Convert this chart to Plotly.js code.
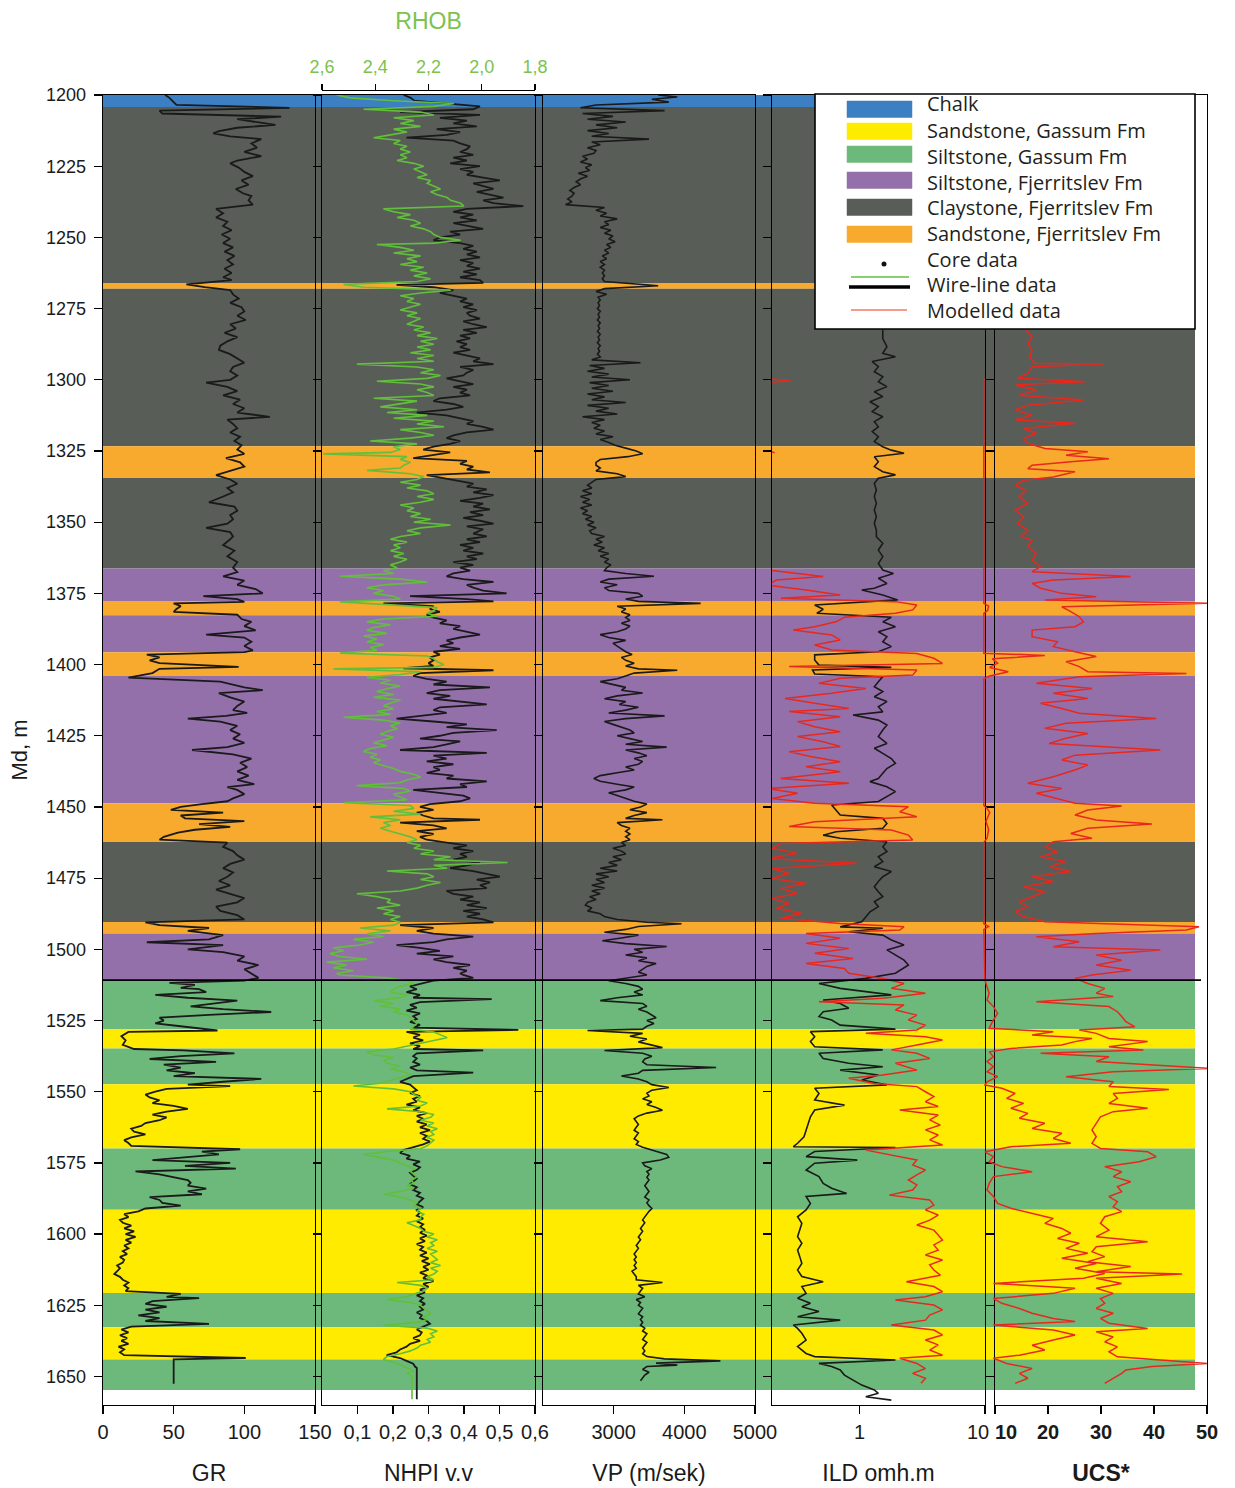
<!DOCTYPE html>
<html>
<head>
<meta charset="utf-8">
<script src="https://cdn.plot.ly/plotly-3.0.1.min.js"></script>
<style>html,body{margin:0;padding:0;background:#fff}#chart{width:1235px;height:1488px}</style>
</head>
<body>
<div id="chart"></div>
<script>
// ---------------- DATA ----------------
// Lithology intervals (top depth, bottom depth, lithology)
const bandTop    = [1200,1204.2,1266.0,1268.0,1323.3,1334.5,1366.3,1377.7,1382.7,1395.7,1404.0,1448.7,1462.3,1490.4,1494.4,1510.8,1528.0,1534.8,1547.4,1569.9,1591.4,1620.7,1632.7,1644.0];
const bandBottom = [1204.2,1266.0,1268.0,1323.3,1334.5,1366.3,1377.7,1382.7,1395.7,1404.0,1448.7,1462.3,1490.4,1494.4,1510.8,1528.0,1534.8,1547.4,1569.9,1591.4,1620.7,1632.7,1644.0,1654.7];
const bandLith   = ['Chalk','ClayF','SandF','ClayF','SandF','ClayF','SiltF','SandF','SiltF','SandF','SiltF','SandF','ClayF','SandF','SiltF','SiltG','SandG','SiltG','SandG','SiltG','SandG','SiltG','SandG','SiltG'];
const formationBoundary = 1510.8;

const legendLabels = ['Chalk','Sandstone, Gassum Fm','Siltstone, Gassum Fm','Siltstone, Fjerritslev Fm','Claystone, Fjerritslev Fm','Sandstone, Fjerritslev Fm'];
const legendKeys   = ['Chalk','SandG','SiltG','SiltF','ClayF','SandF'];
const legendLines  = ['Core data','Wire-line data','Modelled data'];

const depthTicks = [1200,1225,1250,1275,1300,1325,1350,1375,1400,1425,1450,1475,1500,1525,1550,1575,1600,1625,1650];
const grTicks = [0,50,100,150],            grTickText = ['0','50','100','150'];
const nhpiTicks = [0.1,0.2,0.3,0.4,0.5,0.6], nhpiTickText = ['0,1','0,2','0,3','0,4','0,5','0,6'];
const rhobTicks = [2.6,2.4,2.2,2.0,1.8],    rhobTickText = ['2,6','2,4','2,2','2,0','1,8'];
const vpTicks = [3000,4000,5000],          vpTickText = ['3000','4000','5000'];
const ildTicks = [1,10],                   ildTickText = ['1',''];
const ucsTicks = [10,20,30,40,50],         ucsTickText = ['','20','30','40','50'];

// Gamma ray [depth, GR]
const grLog = [[1200,44],[1201,47],[1202.5,50],[1203.5,52],[1204.5,132],[1205.5,40],[1206.5,42],[1207.6,126],[1208.5,95],[1209.5,108],[1210.5,122],[1211.5,95],[1212.7,82],[1213.5,78],[1214.5,90],[1215.5,112],[1217,105],[1218.5,109],[1220,100],[1221.5,112],[1223,95],[1224,90],[1225.5,96],[1227,100],[1228.5,106],[1230,98],[1231.5,103],[1233,94],[1234.5,99],[1235.5,105],[1237,103],[1238.5,106],[1240,80],[1241.5,85],[1243,80],[1244.5,88],[1246,85],[1247.5,91],[1249,84],[1250.5,90],[1252,85],[1253.5,92],[1255,86],[1256.5,93],[1258,88],[1259.5,92],[1261,86],[1262.5,91],[1264,85],[1265,91],[1266.5,59],[1267.5,72],[1268.5,90],[1270,92],[1271.5,96],[1273,90],[1274.5,98],[1276,100],[1277.5,95],[1279,101],[1280.5,90],[1282,94],[1283.5,86],[1285,95],[1286.5,88],[1288,83],[1289.5,82],[1291,90],[1292.5,95],[1294,100],[1295.5,92],[1297,90],[1298.5,95],[1300,90],[1301,73],[1302.5,88],[1304,95],[1305.5,85],[1307,97],[1308.5,92],[1310,100],[1311.5,95],[1313,118],[1314,88],[1315.5,92],[1317,95],[1318.5,90],[1320,97],[1321.5,93],[1323,98],[1324.5,95],[1326,100],[1327.5,87],[1329,97],[1330.5,100],[1332,90],[1333.5,80],[1335,90],[1336.5,95],[1338,88],[1339.5,92],[1341,85],[1343,75],[1344.5,93],[1346,95],[1347.5,90],[1349,92],[1350.5,88],[1352,73],[1353.5,90],[1355,92],[1356,90],[1358,85],[1360,93],[1362,88],[1364,95],[1366,92],[1367.5,95],[1369,85],[1370.5,100],[1372,95],[1373.5,108],[1375,113],[1376,71],[1377,95],[1378,100],[1378.5,50],[1379.5,55],[1380.5,52],[1381.5,50],[1382.5,95],[1384,98],[1385,105],[1386.5,100],[1388,108],[1389.5,73],[1390.5,100],[1392,105],[1393.5,100],[1395,106],[1395.6,100],[1396.5,31],[1397.5,40],[1398.5,33],[1399.5,40],[1400.8,96],[1401.5,40],[1403,35],[1404.6,18],[1406,83],[1408,100],[1409,113],[1410,82],[1411.5,90],[1413,100],[1414.5,95],[1416,92],[1417,102],[1418,87],[1419,60],[1420,83],[1421.5,95],[1423,90],[1424.5,97],[1426,92],[1427.5,100],[1429,88],[1430,63],[1431.5,92],[1433,105],[1434.5,97],[1436,102],[1437.5,95],[1439,103],[1440.5,95],[1442,107],[1443,88],[1444,95],[1445.5,100],[1447,92],[1448,88],[1449,70],[1450,55],[1451,48],[1452,85],[1453,55],[1454,58],[1455,100],[1456,68],[1457,90],[1458,65],[1459,53],[1460.5,43],[1461.5,40],[1462.5,88],[1464,85],[1465.5,92],[1467,95],[1468.5,100],[1470,90],[1471.5,85],[1473,92],[1474.5,88],[1476,82],[1477.5,90],[1479,80],[1480.5,90],[1482,100],[1483.5,95],[1485,80],[1486.5,83],[1488,95],[1489.5,100],[1490.5,30],[1491.5,40],[1492.5,75],[1493.5,60],[1495,85],[1496.5,75],[1497.5,31],[1498.5,85],[1500,60],[1501,85],[1502.5,100],[1504,95],[1505.5,110],[1507,100],[1508.5,105],[1510,110],[1511,100],[1511.8,47],[1512.5,65],[1513.5,55],[1514,68],[1515,73],[1516,37],[1517,60],[1518,95],[1519,80],[1520,62],[1521,85],[1522,119],[1523,75],[1524,40],[1525,43],[1526,37],[1527,55],[1528,70],[1528.5,81],[1529,18],[1530.5,13],[1532,16],[1533.5,14],[1535,22],[1535.5,57],[1536.5,93],[1537.5,55],[1538.5,33],[1539.5,80],[1540.5,43],[1541.5,55],[1542.5,45],[1543.5,65],[1544.5,50],[1545.5,112],[1546.5,85],[1547.5,60],[1548,90],[1549,45],[1550,37],[1551,30],[1552,33],[1553,40],[1554,35],[1555,50],[1556,60],[1557,45],[1558,35],[1559,45],[1560,40],[1561,30],[1562,27],[1563,20],[1564,22],[1565,30],[1566,20],[1567,15],[1568,18],[1569,20],[1570.2,97],[1571,70],[1572,82],[1573,55],[1574,35],[1575,90],[1576,58],[1577,94],[1578,23],[1579,40],[1580,50],[1581,60],[1582,62],[1583,60],[1584,73],[1585,60],[1586,70],[1587,33],[1588,40],[1589,42],[1590,55],[1591,30],[1592,25],[1593,15],[1594,18],[1595,12],[1596,14],[1597,20],[1598,15],[1599,22],[1600,16],[1601,23],[1602,16],[1603,20],[1604,15],[1605,18],[1606,14],[1607,17],[1608,12],[1609,15],[1610,14],[1611,10],[1612,12],[1613,10],[1614,8],[1615,12],[1616,14],[1617,18],[1618,15],[1619,18],[1620,16],[1621,55],[1622,45],[1622.5,68],[1623.5,35],[1624.5,30],[1625.5,45],[1626.5,30],[1627.5,40],[1628.5,25],[1629.5,40],[1630.5,30],[1631.5,75],[1632.5,20],[1633.5,13],[1634.5,18],[1635.5,12],[1636.5,17],[1637.5,13],[1638.5,18],[1639.5,11],[1640.5,15],[1641.5,12],[1642.5,15],[1643.5,101],[1644,50],[1652.5,50]];

// Neutron porosity NHPI [depth, v/v]
const nhpiLog = [[1200,0.23],[1201,0.25],[1202,0.26],[1203,0.36],[1204,0.445],[1205,0.426],[1206,0.22],[1207,0.445],[1208,0.332],[1209,0.408],[1210,0.37],[1211,0.436],[1212,0.323],[1213,0.389],[1214,0.351],[1215,0.238],[1216,0.37],[1217,0.389],[1218,0.417],[1219,0.408],[1220,0.389],[1221,0.426],[1222,0.37],[1223,0.408],[1224,0.361],[1225,0.445],[1226,0.389],[1227,0.426],[1228,0.408],[1229,0.454],[1230,0.501],[1231,0.426],[1232,0.454],[1233,0.483],[1234,0.436],[1235,0.473],[1236,0.511],[1237,0.454],[1238,0.483],[1239,0.567],[1240,0.408],[1241,0.37],[1242,0.426],[1243,0.389],[1244,0.436],[1245,0.37],[1246,0.408],[1247,0.454],[1248,0.361],[1249,0.389],[1250,0.332],[1251,0.314],[1252,0.389],[1253,0.426],[1254,0.398],[1255,0.436],[1256,0.408],[1257,0.445],[1258,0.389],[1259,0.426],[1260,0.408],[1261,0.445],[1262,0.398],[1263,0.436],[1264,0.389],[1265,0.445],[1266,0.454],[1266.7,0.21],[1267.5,0.314],[1268.5,0.37],[1269.5,0.332],[1270.5,0.37],[1271.5,0.408],[1272.5,0.389],[1273.5,0.426],[1274.5,0.398],[1275.5,0.436],[1276.5,0.408],[1277.5,0.417],[1278.5,0.445],[1279.5,0.398],[1280.5,0.426],[1281.5,0.464],[1282.5,0.398],[1283.5,0.436],[1284.5,0.389],[1285.5,0.417],[1286.5,0.379],[1287.5,0.408],[1288.5,0.389],[1289.5,0.417],[1290.5,0.37],[1291.5,0.408],[1292.5,0.445],[1293.5,0.426],[1294.5,0.483],[1295.5,0.389],[1296.5,0.426],[1297.5,0.408],[1298.5,0.398],[1299.5,0.351],[1300.5,0.389],[1301.5,0.426],[1302.5,0.37],[1303.5,0.408],[1304.5,0.389],[1305.5,0.417],[1306.5,0.332],[1307.5,0.314],[1308.5,0.37],[1309.5,0.398],[1310.5,0.351],[1311.5,0.267],[1312.5,0.351],[1313.5,0.389],[1314.5,0.426],[1315.5,0.408],[1316.5,0.454],[1317.5,0.483],[1318.5,0.408],[1319.5,0.37],[1320.5,0.351],[1321.5,0.389],[1322.5,0.361],[1323.5,0.314],[1324.5,0.285],[1325.5,0.361],[1326.5,0.304],[1327.5,0.257],[1328.5,0.408],[1329.5,0.389],[1330.5,0.426],[1331.5,0.408],[1332.5,0.473],[1333.5,0.295],[1334.5,0.342],[1335.5,0.389],[1336.5,0.426],[1337.5,0.408],[1338.5,0.464],[1339.5,0.426],[1340.5,0.483],[1341.5,0.445],[1342.5,0.389],[1343.5,0.454],[1344.5,0.426],[1345.5,0.473],[1346.5,0.417],[1347.5,0.454],[1348.5,0.398],[1349.5,0.445],[1350.5,0.483],[1351.5,0.408],[1352.5,0.454],[1354,0.426],[1355,0.464],[1356,0.408],[1357,0.445],[1358,0.389],[1359,0.426],[1360,0.398],[1361,0.454],[1362,0.408],[1363,0.436],[1364,0.37],[1365,0.426],[1366,0.389],[1367,0.417],[1368,0.37],[1369,0.351],[1370,0.398],[1371,0.483],[1372,0.408],[1373,0.426],[1374,0.454],[1375,0.52],[1376,0.248],[1377,0.408],[1377.8,0.483],[1378.5,0.173],[1379.5,0.314],[1380.5,0.304],[1381.5,0.332],[1382.5,0.295],[1383.5,0.314],[1384.5,0.351],[1385.5,0.332],[1386.5,0.389],[1387.5,0.37],[1388.5,0.408],[1389.5,0.445],[1390.5,0.389],[1391.5,0.351],[1392.5,0.37],[1393.5,0.332],[1394.5,0.389],[1395.5,0.314],[1396.5,0.332],[1397.5,0.304],[1398.5,0.314],[1399.5,0.3],[1400.5,0.314],[1401.3,0.229],[1402,0.483],[1403,0.276],[1404,0.257],[1405,0.295],[1406,0.351],[1407,0.314],[1408,0.473],[1409,0.332],[1410,0.295],[1411,0.361],[1412,0.314],[1413,0.389],[1414,0.464],[1415,0.332],[1416,0.314],[1417,0.351],[1418,0.276],[1419,0.21],[1420,0.314],[1421,0.408],[1422,0.351],[1423,0.492],[1424,0.37],[1425,0.332],[1426,0.276],[1427,0.389],[1428,0.351],[1429,0.314],[1430,0.22],[1431,0.464],[1432,0.314],[1433,0.351],[1434,0.295],[1435,0.37],[1436,0.314],[1437,0.332],[1438,0.295],[1439,0.37],[1440,0.351],[1441,0.464],[1442,0.389],[1443,0.408],[1444,0.257],[1445,0.323],[1446,0.398],[1447,0.417],[1448,0.389],[1449,0.304],[1450,0.276],[1451,0.314],[1452,0.267],[1453,0.285],[1454,0.314],[1454.5,0.445],[1455.5,0.22],[1456.5,0.314],[1457.5,0.351],[1458.5,0.267],[1459.5,0.314],[1460.5,0.276],[1461.5,0.295],[1462.5,0.351],[1463.5,0.408],[1464.5,0.37],[1465.5,0.426],[1466.5,0.389],[1467.5,0.408],[1468.5,0.37],[1469.5,0.445],[1470.5,0.408],[1471.5,0.361],[1472.5,0.426],[1473.5,0.464],[1474.5,0.501],[1475.5,0.436],[1476.5,0.473],[1477.5,0.445],[1478.5,0.464],[1479.5,0.351],[1480.5,0.37],[1481.5,0.426],[1482.5,0.389],[1483.5,0.445],[1484.5,0.408],[1485.5,0.464],[1486.5,0.398],[1487.5,0.445],[1488.5,0.408],[1489.5,0.454],[1490.5,0.483],[1491.5,0.22],[1492.5,0.314],[1493.5,0.267],[1494.5,0.314],[1495.5,0.426],[1496.5,0.351],[1497.5,0.314],[1498.5,0.21],[1499.5,0.276],[1500.5,0.332],[1501.5,0.267],[1502.5,0.37],[1503.5,0.314],[1504.5,0.351],[1505.5,0.417],[1506.5,0.37],[1507.5,0.408],[1508.5,0.389],[1509,0.398],[1510,0.426],[1511,0.314],[1512,0.276],[1513,0.248],[1514,0.267],[1515,0.238],[1516,0.276],[1517,0.257],[1517.5,0.478],[1518.5,0.276],[1519.5,0.248],[1520.5,0.267],[1521.5,0.238],[1522.5,0.276],[1523.5,0.257],[1524.5,0.267],[1525.5,0.248],[1526.5,0.276],[1527.5,0.257],[1528.3,0.553],[1529,0.238],[1530,0.276],[1531,0.257],[1532,0.285],[1533,0.248],[1534,0.276],[1535,0.257],[1535.5,0.454],[1536.5,0.267],[1537.5,0.257],[1538.3,0.267],[1539.5,0.257],[1540.5,0.276],[1541.5,0.248],[1542.5,0.267],[1543.3,0.426],[1544.5,0.257],[1545.5,0.238],[1546.5,0.22],[1547.5,0.248],[1548.5,0.257],[1549.5,0.267],[1550.5,0.248],[1551.5,0.276],[1552.5,0.257],[1553.5,0.267],[1554.5,0.238],[1555.5,0.276],[1556.5,0.257],[1557.5,0.295],[1558.5,0.267],[1559.5,0.285],[1560.5,0.267],[1561.5,0.295],[1562.5,0.276],[1563.5,0.304],[1564.5,0.276],[1565.5,0.295],[1566.5,0.285],[1567.5,0.304],[1568.5,0.285],[1569.5,0.257],[1570.5,0.229],[1571.5,0.22],[1572.5,0.248],[1573.5,0.238],[1574.5,0.276],[1575.5,0.257],[1576.5,0.276],[1577.5,0.267],[1578.5,0.248],[1579.5,0.257],[1580.5,0.267],[1581.5,0.257],[1582.5,0.248],[1583.5,0.267],[1584.5,0.257],[1585.5,0.276],[1586.5,0.267],[1587.5,0.285],[1588.5,0.276],[1589.5,0.267],[1590.5,0.285],[1591.5,0.267],[1592.5,0.276],[1593.5,0.267],[1594.5,0.285],[1595.5,0.267],[1596.5,0.285],[1597.5,0.276],[1598.5,0.29],[1599.5,0.276],[1600.5,0.295],[1601.5,0.276],[1602.5,0.29],[1603.5,0.267],[1604.5,0.285],[1605.5,0.276],[1606.5,0.295],[1607.5,0.276],[1608.5,0.3],[1609.5,0.281],[1610.5,0.304],[1611.5,0.285],[1612.5,0.3],[1613.5,0.276],[1614.5,0.295],[1615.5,0.285],[1616.5,0.314],[1617.5,0.285],[1618.5,0.3],[1619.5,0.276],[1620.5,0.29],[1621.5,0.267],[1622.5,0.285],[1623.5,0.276],[1624.5,0.29],[1625.5,0.276],[1626.5,0.285],[1627.5,0.267],[1628.5,0.281],[1629.5,0.276],[1630.5,0.295],[1631.5,0.304],[1632.5,0.285],[1633.5,0.267],[1634.5,0.281],[1635.5,0.276],[1636.5,0.257],[1637.5,0.276],[1638.5,0.248],[1639.5,0.238],[1640.5,0.22],[1641.5,0.21],[1642.5,0.182],[1643.5,0.22],[1644.5,0.238],[1645.5,0.257],[1646.5,0.262],[1647,0.267],[1658,0.267]];

// Bulk density RHOB [depth, g/cc]
const rhobLog = [[1200,2.545],[1201,2.494],[1202,2.331],[1203,2.104],[1204,2.18],[1205,2.444],[1206,2.23],[1207,2.18],[1208,2.331],[1209,2.255],[1210,2.306],[1211,2.23],[1212,2.331],[1213,2.281],[1214,2.343],[1215,2.406],[1216,2.306],[1217,2.331],[1218,2.281],[1219,2.306],[1220,2.268],[1221,2.306],[1222,2.281],[1223,2.318],[1224,2.255],[1225,2.218],[1226,2.255],[1227,2.23],[1228,2.205],[1229,2.243],[1230,2.192],[1231,2.205],[1232,2.18],[1233,2.155],[1234,2.192],[1235,2.167],[1236,2.13],[1237,2.117],[1238,2.079],[1239,2.067],[1240,2.369],[1241,2.331],[1242,2.268],[1243,2.318],[1244,2.255],[1245,2.23],[1246,2.268],[1247,2.218],[1248,2.192],[1249,2.18],[1250,2.155],[1251,2.079],[1252,2.18],[1252.5,2.394],[1253.5,2.306],[1254.5,2.255],[1255.5,2.331],[1256.5,2.23],[1257.5,2.281],[1258.5,2.243],[1259.5,2.306],[1260.5,2.218],[1261.5,2.268],[1262.5,2.205],[1263.5,2.255],[1264.5,2.192],[1265.5,2.243],[1266.5,2.519],[1267.5,2.444],[1268.5,2.117],[1269.5,2.23],[1270.5,2.306],[1271.5,2.255],[1272.5,2.281],[1273.5,2.23],[1274.5,2.268],[1275.5,2.306],[1276.5,2.243],[1277.5,2.281],[1278.5,2.23],[1279.5,2.255],[1280.5,2.281],[1281.5,2.218],[1282.5,2.255],[1283.5,2.192],[1284.5,2.243],[1285.5,2.167],[1286.5,2.23],[1287.5,2.18],[1288.5,2.243],[1289.5,2.192],[1290.5,2.268],[1291.5,2.18],[1292.5,2.243],[1293.5,2.18],[1294.5,2.469],[1295.5,2.243],[1296.5,2.18],[1297.5,2.23],[1298.5,2.155],[1299.5,2.205],[1300.5,2.394],[1301.5,2.23],[1302.5,2.18],[1303.5,2.243],[1304.5,2.205],[1305.5,2.18],[1306.5,2.406],[1307.5,2.243],[1308.5,2.306],[1309.5,2.381],[1310.5,2.243],[1311.5,2.356],[1312.5,2.205],[1313.5,2.331],[1314.5,2.18],[1315.5,2.243],[1316.5,2.142],[1317.5,2.306],[1318.5,2.23],[1319.5,2.18],[1320.5,2.268],[1321.5,2.419],[1322.5,2.243],[1323.5,2.331],[1324.5,2.306],[1325.5,2.343],[1326,2.595],[1327,2.281],[1328,2.306],[1329,2.268],[1330,2.293],[1331,2.306],[1331.8,2.431],[1333,2.268],[1334,2.218],[1335,2.243],[1336,2.306],[1337,2.23],[1338,2.281],[1339,2.205],[1340,2.18],[1341,2.243],[1342,2.18],[1343,2.23],[1344,2.306],[1345,2.255],[1346,2.281],[1347,2.23],[1348,2.268],[1349,2.192],[1350,2.255],[1351,2.117],[1352,2.23],[1353,2.281],[1354,2.23],[1355,2.306],[1356,2.343],[1357,2.281],[1358,2.331],[1359,2.306],[1360,2.343],[1361,2.293],[1362,2.331],[1363,2.281],[1364,2.306],[1365,2.343],[1366,2.318],[1367,2.369],[1368,2.331],[1369,2.532],[1370,2.306],[1371,2.205],[1372,2.369],[1373,2.431],[1374,2.369],[1375,2.406],[1376,2.331],[1377,2.306],[1378,2.532],[1379,2.369],[1380,2.167],[1381,2.18],[1382,2.205],[1383,2.167],[1384,2.369],[1385,2.431],[1386,2.343],[1387,2.406],[1388,2.431],[1389,2.356],[1390,2.444],[1391,2.394],[1392,2.431],[1393,2.369],[1394,2.419],[1395,2.394],[1396,2.532],[1397,2.205],[1398,2.18],[1399,2.167],[1400,2.142],[1401,2.18],[1401.5,2.557],[1402.5,2.23],[1403.5,2.306],[1404.5,2.431],[1405.5,2.343],[1406.5,2.381],[1407.5,2.306],[1408.5,2.356],[1409.5,2.394],[1410.5,2.331],[1411.5,2.406],[1412.5,2.306],[1413.5,2.343],[1414.5,2.369],[1415.5,2.331],[1416.5,2.394],[1417.5,2.343],[1418.5,2.519],[1419.5,2.369],[1420.5,2.306],[1421.5,2.343],[1422.5,2.318],[1423.5,2.356],[1424.5,2.381],[1425.5,2.331],[1426.5,2.369],[1427.5,2.406],[1428.5,2.356],[1429.5,2.419],[1430.5,2.444],[1431.5,2.394],[1432.5,2.419],[1433.5,2.381],[1434.5,2.406],[1435.5,2.369],[1436.5,2.331],[1437.5,2.306],[1438.5,2.255],[1439.5,2.23],[1440.5,2.281],[1441.5,2.306],[1442.5,2.469],[1443.5,2.293],[1444.5,2.268],[1445.5,2.331],[1446.5,2.306],[1447.5,2.281],[1448.5,2.519],[1449.5,2.268],[1450.5,2.255],[1451.5,2.331],[1452.5,2.23],[1453.5,2.419],[1454.5,2.306],[1455.5,2.369],[1456.5,2.343],[1457.5,2.381],[1458.5,2.343],[1459.5,2.306],[1460.5,2.268],[1461.5,2.243],[1462.5,2.281],[1463.5,2.23],[1464.5,2.255],[1465.5,2.18],[1466.5,2.23],[1467.5,2.117],[1468.5,2.18],[1469.5,1.903],[1470.5,2.18],[1471.5,2.13],[1472.5,2.356],[1473.5,2.205],[1474.5,2.18],[1475.5,2.23],[1476.5,2.155],[1477.5,2.205],[1478.5,2.243],[1479.5,2.306],[1480.5,2.469],[1481.5,2.394],[1482.5,2.343],[1483.5,2.356],[1484.5,2.306],[1485.5,2.394],[1486.5,2.331],[1487.5,2.369],[1488.5,2.306],[1489.5,2.343],[1490.5,2.306],[1491.5,2.331],[1492.5,2.457],[1493.5,2.343],[1494.5,2.431],[1495.5,2.369],[1496.5,2.482],[1497.5,2.406],[1498.5,2.457],[1499.5,2.557],[1500.5,2.519],[1501.5,2.57],[1502.5,2.532],[1503.5,2.431],[1504.5,2.582],[1505.5,2.507],[1506.5,2.557],[1507.5,2.482],[1508.5,2.545],[1509,2.532],[1510,2.356],[1511,2.281],[1512,2.255],[1513,2.306],[1514,2.331],[1515,2.343],[1516,2.281],[1517,2.306],[1518,2.406],[1519,2.331],[1520,2.381],[1521,2.306],[1522,2.331],[1523,2.281],[1524,2.268],[1525,2.255],[1526,2.243],[1527,2.255],[1528,2.268],[1529,2.18],[1530,2.155],[1531,2.13],[1532,2.18],[1533,2.23],[1534,2.281],[1535,2.331],[1536,2.431],[1537,2.406],[1538,2.331],[1539,2.369],[1540,2.356],[1541,2.306],[1542,2.343],[1543,2.293],[1544,2.268],[1545,2.306],[1546,2.343],[1547,2.381],[1548,2.482],[1549,2.331],[1550,2.268],[1551,2.255],[1552,2.23],[1553,2.243],[1554,2.205],[1555,2.23],[1556,2.356],[1557,2.23],[1558,2.18],[1559,2.192],[1560,2.23],[1561,2.18],[1562,2.205],[1563,2.167],[1564,2.192],[1565,2.18],[1566,2.205],[1567,2.18],[1568,2.192],[1569,2.205],[1570,2.23],[1571,2.356],[1572,2.444],[1573,2.381],[1574,2.331],[1575,2.306],[1576,2.281],[1577,2.255],[1578,2.268],[1579,2.255],[1580,2.243],[1581,2.268],[1582,2.255],[1583,2.281],[1584,2.255],[1585,2.306],[1586,2.369],[1587,2.306],[1588,2.268],[1589,2.243],[1590,2.255],[1591,2.23],[1592,2.243],[1593,2.218],[1594,2.23],[1595,2.23],[1596,2.281],[1597,2.255],[1598,2.23],[1599,2.218],[1600,2.18],[1601,2.205],[1602,2.167],[1603,2.192],[1604,2.18],[1605,2.205],[1606,2.167],[1607,2.192],[1608,2.18],[1609,2.167],[1610,2.192],[1611,2.155],[1612,2.192],[1613,2.167],[1614,2.18],[1615,2.205],[1616,2.18],[1617,2.318],[1618,2.23],[1619,2.205],[1620,2.218],[1621,2.255],[1622,2.281],[1623,2.356],[1624,2.268],[1625,2.23],[1626,2.218],[1627,2.205],[1628,2.192],[1629,2.218],[1630,2.205],[1631,2.243],[1632,2.369],[1633,2.205],[1634,2.167],[1635,2.192],[1636,2.18],[1637,2.205],[1638,2.192],[1639,2.23],[1640,2.243],[1641,2.268],[1642,2.306],[1643,2.356],[1644,2.369],[1645,2.331],[1646,2.306],[1647,2.281],[1648,2.255],[1649,2.281],[1650,2.262],[1658,2.262]];

// P-wave velocity VP [depth, m/s]
const vpLog = [[1200,3630],[1200.7,3900],[1201.5,3540],[1202.5,3780],[1203.5,2750],[1204.5,2530],[1205.5,3720],[1206.5,2560],[1207.5,2990],[1208.5,2630],[1209.5,3170],[1210.5,2750],[1211.5,3050],[1212.5,2630],[1213.5,2930],[1214.5,2690],[1215.5,3500],[1216.5,2690],[1217.5,2810],[1218.5,2630],[1219.5,2750],[1220.5,2720],[1221.5,2560],[1222.5,2630],[1223.5,2530],[1224.5,2690],[1225.5,2600],[1226.5,2660],[1227.5,2500],[1228.5,2630],[1229.5,2530],[1230.5,2470],[1231.5,2530],[1232.5,2440],[1233.5,2380],[1234.5,2440],[1235.5,2410],[1236.5,2350],[1237.5,2410],[1238.5,2320],[1239.5,2870],[1240.5,2750],[1241.5,2900],[1242.5,2810],[1243.5,3050],[1244.5,2870],[1245.5,2930],[1246.5,2810],[1247.5,2960],[1248.5,2870],[1249.5,2990],[1250.5,2930],[1251.5,3020],[1252.5,2900],[1253.5,2960],[1254.5,2870],[1255.5,2930],[1256.5,2840],[1257.5,2900],[1258.5,2810],[1259.5,2870],[1260.5,2810],[1261.5,2870],[1262.5,2840],[1263.5,2870],[1264.5,2840],[1265.5,2870],[1266.5,3350],[1267,3630],[1268,2870],[1269,2750],[1270,2900],[1271,2780],[1272,2810],[1273,2780],[1274,2800],[1275,2770],[1276,2810],[1277,2780],[1278,2800],[1279,2770],[1280,2810],[1281,2780],[1282,2800],[1283,2770],[1284,2810],[1285,2780],[1286,2800],[1287,2770],[1288,2810],[1289,2780],[1290,2800],[1291,2770],[1292,2810],[1293,2690],[1294,3380],[1295,2660],[1296,2870],[1297,2630],[1298,2930],[1299,2690],[1300,3230],[1301,2660],[1302,2930],[1303,2690],[1304,2990],[1305,2630],[1306,2870],[1307,2690],[1308,3170],[1309,2630],[1310,2930],[1311,2750],[1312,3050],[1313,2560],[1314,2870],[1315,2690],[1316,2810],[1317,2720],[1318,2870],[1319,2750],[1320,2990],[1321,2810],[1322,2930],[1323,3020],[1324,3170],[1325,3320],[1326,3410],[1327,3200],[1328,2810],[1329,2750],[1330,2750],[1331,2810],[1332,2750],[1333,3050],[1334,3170],[1335,2750],[1336,2690],[1337,2630],[1338,2690],[1339,2560],[1340,2690],[1341,2530],[1342,2660],[1343,2560],[1344,2690],[1345,2530],[1346,2630],[1347,2560],[1348,2690],[1349,2600],[1350,2720],[1351,2630],[1352,2750],[1353,2660],[1354,2690],[1355,2870],[1356,2750],[1357,2840],[1358,2720],[1359,2870],[1360,2780],[1361,2930],[1362,2810],[1363,2930],[1364,2870],[1365,2960],[1366,2900],[1367,2870],[1368,3170],[1369,3570],[1370,2930],[1371,2810],[1372,3050],[1373,2870],[1374,2930],[1375,3350],[1376,3410],[1377,3170],[1377.8,3350],[1378.5,4230],[1379.5,3050],[1380.5,3170],[1381.5,3110],[1382.5,3230],[1383.5,3170],[1384.5,3230],[1385.5,3110],[1386.5,3230],[1387.5,3170],[1388.5,3050],[1389.5,2810],[1390.5,2930],[1391.5,3170],[1392.5,2990],[1393.5,3050],[1394.5,3110],[1395.5,3170],[1396.5,3260],[1397.5,3110],[1398.5,3170],[1399.5,3290],[1400.5,3170],[1401.5,3350],[1402,3900],[1403,3290],[1404,3170],[1405,3050],[1406,2810],[1407,2990],[1408,3170],[1409,3110],[1410,3410],[1411,3050],[1412,2870],[1413,3170],[1414,3080],[1415,3350],[1416,3170],[1417,2930],[1418,3720],[1419,3170],[1420,2870],[1421,2990],[1422,3110],[1423,3230],[1424,3290],[1425,3050],[1426,3230],[1427,3410],[1428,3170],[1429,3750],[1430,3170],[1431,3350],[1432,3470],[1433,3290],[1434,3410],[1435,3350],[1436,3170],[1437,3290],[1438,3050],[1439,2810],[1440,2720],[1441,2810],[1442,3050],[1443,3290],[1444,3170],[1445,2930],[1446,3050],[1447,3170],[1448,3290],[1449,3470],[1450,3380],[1451,3230],[1452,3470],[1453,3290],[1454,3170],[1454.5,3690],[1455.5,3050],[1456.5,3110],[1457.5,3230],[1458.5,3170],[1459.5,3230],[1460.5,3170],[1461.5,3230],[1462.5,3110],[1463.5,3170],[1464.5,2990],[1465.5,3110],[1466.5,3170],[1467.5,2990],[1468.5,3110],[1469.5,2930],[1470.5,3050],[1471.5,2810],[1472.5,3050],[1473.5,2750],[1474.5,2930],[1475.5,2750],[1476.5,2870],[1477.5,2690],[1478.5,2870],[1479.5,2690],[1480.5,2810],[1481.5,2660],[1482.5,2750],[1483.5,2630],[1484.5,2600],[1485.5,2690],[1486.5,2630],[1487.5,2810],[1488.5,2870],[1489.5,3050],[1490.5,3470],[1491,3960],[1492,3350],[1493,3170],[1494,2870],[1495,3350],[1496,3110],[1497,2840],[1498,3170],[1499,3750],[1500,3290],[1501,3410],[1502,3170],[1503,3470],[1504,3350],[1505,3600],[1506,3470],[1507,3410],[1508,3350],[1509,3470],[1510,3170],[1511,2930],[1512,3170],[1513,3350],[1514,3410],[1515,3290],[1516,3410],[1517,3050],[1518,2810],[1519,3410],[1520,3470],[1521,3350],[1522,3470],[1523,3540],[1524,3600],[1525,3470],[1526,3570],[1527,3470],[1528,3410],[1528.5,2630],[1529.5,3410],[1530.5,3230],[1531.5,3470],[1532.5,3350],[1533.5,3540],[1534.5,3690],[1535.5,2870],[1536.5,3410],[1537.5,3540],[1538.5,3440],[1539.5,3410],[1540.5,3470],[1541.5,4450],[1542.5,3410],[1543.5,3350],[1544.5,3110],[1545.5,3350],[1546.5,3470],[1547.5,3540],[1548.5,3780],[1549.5,3540],[1550.5,3470],[1551.5,3500],[1552.5,3410],[1553.5,3540],[1554.5,3470],[1555.5,3600],[1556.5,3690],[1557.5,3470],[1558.5,3350],[1559.5,3290],[1560.5,3320],[1561.5,3350],[1562.5,3320],[1563.5,3290],[1564.5,3350],[1565.5,3320],[1566.5,3290],[1567.5,3350],[1568.5,3320],[1569.5,3410],[1570.5,3540],[1571.5,3660],[1572,3750],[1573,3780],[1574,3660],[1575,3410],[1576,3440],[1577,3540],[1578,3470],[1579,3500],[1580,3470],[1581,3500],[1582,3470],[1583,3440],[1584,3470],[1585,3500],[1586,3470],[1587,3440],[1588,3500],[1589,3470],[1590,3500],[1591,3540],[1592,3500],[1593,3470],[1594,3440],[1595,3410],[1596,3440],[1597,3410],[1598,3380],[1599,3410],[1600,3380],[1601,3350],[1602,3380],[1603,3350],[1604,3320],[1605,3350],[1606,3320],[1607,3290],[1608,3320],[1609,3290],[1610,3320],[1611,3290],[1612,3320],[1613,3260],[1614,3290],[1615,3320],[1616,3320],[1617,3690],[1618,3350],[1619,3410],[1620,3380],[1621,3350],[1622,3440],[1623,3320],[1624,3380],[1625,3350],[1626,3410],[1627,3380],[1628,3350],[1629,3410],[1630,3380],[1631,3410],[1632,3380],[1633,3440],[1634,3410],[1635,3470],[1636,3440],[1637,3410],[1638,3470],[1639,3440],[1640,3410],[1641,3440],[1642,3410],[1643,3470],[1643.8,3720],[1644.5,4510],[1645.3,3600],[1646,3900],[1646.5,3470],[1647.5,3410],[1648.5,3500],[1649.5,3440],[1650.5,3410],[1651.5,3380]];

// Deep resistivity ILD, wire-line [depth, ohm.m]
const ildLog = [[1282.5,1.53],[1285.5,1.53],[1288.4,1.65],[1290.7,1.53],[1291.9,1.93],[1293.6,1.26],[1295.4,1.41],[1297.2,1.31],[1298.9,1.53],[1300.7,1.41],[1302.4,1.65],[1304.2,1.31],[1305.9,1.53],[1307.7,1.21],[1309.4,1.41],[1311.2,1.26],[1313,1.53],[1314.7,1.31],[1316.5,1.41],[1318.2,1.26],[1320,1.41],[1321.7,1.31],[1323.5,1.53],[1324.7,1.79],[1325.8,2.26],[1327,1.31],[1328.8,1.41],[1330.5,1.31],[1332.3,1.53],[1333.4,1.93],[1334.6,1.41],[1336.4,1.31],[1338.7,1.36],[1341,1.31],[1343.4,1.36],[1345.7,1.31],[1348.1,1.36],[1350.4,1.31],[1352.8,1.36],[1355.1,1.36],[1357.4,1.53],[1359.8,1.41],[1362.1,1.53],[1364.5,1.41],[1366.8,1.53],[1368,1.86],[1369.7,1.41],[1371.5,1.65],[1373.2,1.31],[1373.8,1.04],[1375.6,1.53],[1377.3,2.01],[1379.1,0.438],[1380.6,0.512],[1382,0.456],[1383.4,1.79],[1385,1.53],[1386.7,1.93],[1388.5,1.41],[1390.2,1.65],[1392,1.53],[1393.7,1.79],[1395.5,1.41],[1396.6,0.438],[1398.4,0.438],[1400.2,0.474],[1401,1.79],[1401.9,0.421],[1403.3,0.438],[1404.3,1.53],[1406,1.41],[1407.8,1.31],[1409.5,1.53],[1411.3,1.31],[1413,1.65],[1414.8,1.41],[1416.6,1.53],[1417.7,0.886],[1419.5,1.41],[1421.2,1.65],[1423,1.53],[1425.3,1.41],[1427.7,1.65],[1429.4,1.31],[1431.2,1.53],[1433,1.79],[1434.7,1.93],[1436.5,1.65],[1438.2,1.53],[1440,1.41],[1441.1,1.21],[1442.9,1.65],[1444.6,1.93],[1446.4,1.65],[1448.1,1.41],[1449.3,0.598],[1451.1,0.647],[1452.8,0.7],[1454,1.53],[1455.8,1.65],[1457.5,1.53],[1458.7,0.647],[1459.9,0.512],[1461,0.7],[1462.2,1.65],[1464,1.53],[1465.7,1.65],[1467.5,1.41],[1469.2,1.53],[1471,1.31],[1472.7,1.79],[1474.5,1.53],[1476.2,1.41],[1478,1.31],[1479.8,1.41],[1481.5,1.53],[1483.3,1.31],[1485,1.41],[1486.8,1.21],[1488.5,1.12],[1490.3,1.04],[1492.1,0.7],[1492.6,1.53],[1493.8,0.819],[1495,1.53],[1496.7,1.79],[1498.5,2.26],[1500.2,1.65],[1502,1.93],[1503.8,2.26],[1505.5,2.45],[1507.3,2.09],[1508.4,1.93],[1510.2,1.12],[1512,0.474],[1513.7,0.7],[1516,1.79],[1517.8,0.512],[1519,0.7],[1520.7,0.819],[1521.9,0.512],[1523.6,0.474],[1524.8,0.598],[1526.6,0.7],[1528,1.93],[1528.9,0.405],[1530.7,0.438],[1532.4,0.405],[1534.2,0.438],[1535.3,1.53],[1536.5,0.474],[1538.3,0.512],[1540,0.819],[1541.2,1.53],[1542.4,0.7],[1544.1,1.41],[1545.9,1.04],[1547.6,1.65],[1548.8,0.438],[1550.6,0.474],[1552.9,0.438],[1554.7,0.757],[1556.4,0.438],[1558.8,0.405],[1561.1,0.389],[1563.4,0.374],[1565.8,0.36],[1568.1,0.32],[1569.3,0.296],[1569.6,1.93],[1571,0.438],[1572.8,0.374],[1574,0.958],[1575.1,0.438],[1577.5,0.374],[1579.8,0.474],[1582.2,0.512],[1583.9,0.598],[1585.7,0.787],[1586.8,0.374],[1589.2,0.405],[1591.5,0.374],[1593.9,0.32],[1596.2,0.346],[1598.6,0.333],[1600.9,0.32],[1603.2,0.346],[1605.6,0.32],[1607.9,0.333],[1610.3,0.346],[1612.6,0.32],[1614.9,0.346],[1616.7,0.512],[1618.4,0.346],[1620.8,0.374],[1622.5,0.32],[1624.3,0.405],[1625.5,0.346],[1627.2,0.474],[1629,0.32],[1630.2,0.7],[1631.9,0.296],[1633.1,0.32],[1634.8,0.346],[1637.2,0.374],[1639.5,0.32],[1641.9,0.374],[1643,0.438],[1644.2,1.93],[1645.4,0.474],[1646.5,0.598],[1647.7,0.7],[1649.5,0.757],[1651.2,0.886],[1653,1.04],[1654.7,1.31],[1655.9,1.41],[1657.1,1.12],[1658.3,1.79]];

// Deep resistivity ILD, modelled [depth, ohm.m] (null = gap)
const ildModel = [[1299.6,0.18],[1300.3,0.28],[1300.8,0.2],[1301.5,0.18],[1301.6,null],[1324.8,0.18],[1325.6,0.21],[1325.7,null],[1366.8,0.185],[1368,0.32],[1369.1,0.512],[1370.3,0.217],[1372.1,0.185],[1373.8,0.374],[1375.6,0.7],[1376.7,0.235],[1377.9,1.93],[1379.1,2.86],[1380.8,2.65],[1382,1.93],[1383.4,0.757],[1385,0.647],[1386.7,0.438],[1387.9,0.296],[1389.6,0.598],[1391.4,0.7],[1393.1,0.438],[1394.9,0.598],[1396.1,2.86],[1397.8,3.91],[1399.6,4.58],[1400.7,0.274],[1401.9,2.86],[1403.7,2.65],[1404.8,0.7],[1406.6,0.474],[1408.4,1.12],[1410.1,0.598],[1411.9,0.254],[1413.6,0.438],[1415.4,0.819],[1416.5,0.274],[1418.3,0.7],[1420.1,0.32],[1421.8,0.438],[1423.6,0.7],[1425.3,0.32],[1427.1,0.512],[1428.8,0.7],[1430.6,0.274],[1432.3,0.405],[1434.1,0.7],[1435.9,0.374],[1437.6,0.7],[1440,0.235],[1441.7,0.819],[1443.5,0.185],[1445.2,0.32],[1447,0.2],[1448.7,0.438],[1449.9,2.45],[1451.7,2.09],[1453.4,2.86],[1455.2,0.438],[1456.9,0.274],[1458.1,1.79],[1459.9,2.45],[1461.6,2.65],[1462.8,0.235],[1464.5,0.2],[1466.3,0.32],[1468.1,0.185],[1469.8,0.958],[1471.6,0.2],[1473.3,0.274],[1475.1,0.2],[1476.8,0.374],[1478.6,0.235],[1480.3,0.32],[1482.1,0.2],[1483.9,0.274],[1485.6,0.217],[1487.4,0.346],[1489.1,0.235],[1490.9,0.7],[1492.1,2.26],[1493.2,2.09],[1494.4,0.374],[1496.1,0.7],[1497.9,0.374],[1499.7,0.819],[1501.4,0.438],[1503.2,0.886],[1505,0.374],[1506.7,0.757],[1508.4,0.819],[1510.2,1.53],[1512,2.26],[1513.7,1.79],[1515.4,3.35],[1517.2,1.53],[1518.4,0.474],[1519.5,2.26],[1521.3,1.93],[1523.1,2.86],[1524.8,2.45],[1526.6,3.35],[1528.3,2.86],[1529.5,1.12],[1530.7,3.35],[1531.8,4.58],[1533.6,2.86],[1535.3,1.79],[1536.5,2.86],[1538.3,3.62],[1540,1.93],[1542.4,2.86],[1544.1,1.53],[1545.3,0.819],[1547.1,1.31],[1548.2,2.86],[1550,3.35],[1551.7,3.91],[1553.5,3.35],[1555.2,4.23],[1556.4,2.09],[1558.2,4.23],[1559.9,3.62],[1561.7,4.4],[1563.4,3.35],[1565.2,4.23],[1566.9,3.62],[1568.7,4.58],[1570.5,1.12],[1572.2,1.79],[1574,2.86],[1575.7,2.65],[1577.5,3.35],[1579.2,2.86],[1581,2.45],[1582.7,2.86],[1584.5,2.65],[1586.3,1.72],[1588,3.62],[1589.8,3.91],[1591.5,3.35],[1593.3,4.23],[1595.1,3.62],[1596.8,2.86],[1598.6,3.91],[1600.3,4.23],[1602.1,4.58],[1603.8,3.91],[1605.6,4.23],[1607.3,3.35],[1609.1,4.58],[1610.8,3.62],[1612.6,3.91],[1614.4,4.4],[1616.7,2.36],[1618.4,3.91],[1620.2,4.58],[1622,3.35],[1623.1,1.93],[1624.9,3.91],[1626.6,4.58],[1628.4,3.62],[1630.2,3.35],[1631.9,1.79],[1633.7,3.91],[1635.4,4.58],[1637.2,3.35],[1638.9,4.23],[1640.7,3.62],[1642.5,4.58],[1643.6,2.09],[1645.4,2.86],[1647.2,3.35],[1648.9,2.65],[1650.6,3.35],[1652.4,3.09]];

// UCS modelled, model 1 [depth, MPa]
const ucsModelA = [[1282.5,15.8],[1284.9,17.0],[1287.2,16.2],[1289.5,17.0],[1291.9,16.6],[1294.2,17.4],[1294.5,30.3],[1295.4,17.0],[1297.7,16.2],[1299.5,14.2],[1300.7,27.1],[1301.8,13.8],[1303.6,17.8],[1305.4,14.6],[1307.1,26.7],[1308.9,16.2],[1310.6,13.8],[1312.4,17.0],[1314.1,13.8],[1315.3,25.1],[1317.1,15.4],[1318.8,17.8],[1320.6,15.4],[1322.3,16.2],[1324.1,19.4],[1325.3,27.5],[1326.5,23.4],[1327.7,31.5],[1328.8,24.3],[1330,17.0],[1331.2,16.2],[1332.3,25.1],[1334.1,21.0],[1335.3,15.4],[1337,13.8],[1338.8,15.8],[1341.1,14.6],[1343.4,16.2],[1345.7,13.8],[1348.1,15.4],[1350.4,14.2],[1352.8,16.2],[1355.1,15.0],[1356.3,17.0],[1358.6,16.2],[1361,17.8],[1363.3,17.0],[1365.6,18.6],[1367.4,17.0],[1369.1,35.6],[1370.3,21.0],[1371.5,17.0],[1373.2,18.6],[1375,22.6],[1376.2,29.1],[1377.3,19.4],[1378.5,50.1],[1379.7,22.6],[1381.4,24.3],[1383.2,25.9],[1385,26.7],[1386.7,25.1],[1387.9,17.0],[1390.2,17.0],[1392,21.8],[1393.7,21.0],[1395.5,25.1],[1397.2,29.1],[1399,23.4],[1400.7,25.9],[1402.5,27.5],[1403.1,46.1],[1404.3,25.9],[1406.6,17.8],[1408.4,28.3],[1410.1,21.0],[1411.9,27.5],[1413.6,18.6],[1415.4,22.6],[1417.1,25.9],[1418.9,40.4],[1420.6,23.4],[1422.4,19.4],[1424.2,27.5],[1425.9,23.4],[1427.7,20.2],[1430,41.2],[1431.8,25.1],[1433.5,22.6],[1435.3,27.5],[1437,25.1],[1439.4,21.0],[1441.7,16.2],[1443.5,22.6],[1445.2,17.8],[1447,21.8],[1448.7,25.1],[1449.7,33.9],[1451.1,27.5],[1452.8,25.1],[1454.6,29.1],[1456,39.6],[1457.5,27.5],[1459.3,24.3],[1461,28.3],[1462.2,21.0],[1464,19.4],[1465.7,21.8],[1467.5,18.6],[1469.2,23.4],[1471,20.2],[1472.7,24.3],[1474.5,17.0],[1476.2,21.0],[1478,15.4],[1479.8,19.4],[1481.5,17.0],[1483.3,14.6],[1485,16.2],[1486.8,13.8],[1488.5,15.4],[1490.3,19.4],[1492.1,48.5],[1493.2,46.1],[1494.4,29.1],[1495.6,17.8],[1497.3,25.9],[1499.1,21.0],[1500.2,41.2],[1502,29.1],[1503.8,33.9],[1505.5,29.1],[1507.3,35.6],[1509,28.3],[1510.2,25.1],[1512,27.5],[1513.7,30.7],[1515.4,29.1],[1516.6,32.3],[1518.4,17.8],[1520.1,31.5],[1521.9,33.1],[1523.6,33.9],[1525.4,34.7],[1527.2,36.4],[1528.3,25.9],[1529.5,29.1],[1531.3,31.5],[1532.4,38.8],[1534.2,31.5],[1535.3,38.0],[1536.5,18.6],[1537.7,31.5],[1539.4,29.1],[1541.8,50.1],[1543,32.3],[1544.7,23.4],[1546.5,32.3],[1548.2,31.5],[1549.2,42.8],[1550.6,32.3],[1552.3,33.1],[1554.1,31.5],[1555.8,38.8],[1557,32.3],[1558.8,29.9],[1561.1,29.1],[1563.4,28.3],[1565.8,29.1],[1568.1,28.3],[1569.9,29.9],[1571.1,38.8],[1572.8,40.4],[1574.6,37.2],[1576.3,30.7],[1578.1,33.9],[1579.8,32.3],[1581.6,35.6],[1583.3,33.1],[1585.1,33.9],[1586.8,31.5],[1588.6,33.1],[1590.4,32.3],[1592.1,33.9],[1593.9,30.7],[1596.2,29.9],[1598.6,31.5],[1600.9,29.1],[1602.7,38.8],[1604.4,29.1],[1606.2,28.3],[1607.9,30.7],[1609.7,27.5],[1611.4,35.6],[1613.2,29.1],[1614,45.3],[1615.5,29.1],[1617.3,33.9],[1619,29.1],[1620.8,32.3],[1622.6,29.9],[1624.3,30.7],[1626.1,29.1],[1627.8,32.3],[1629.6,29.9],[1631.3,31.5],[1633.1,38.8],[1634.3,29.1],[1636.1,32.3],[1637.8,30.7],[1639.6,33.1],[1641.3,31.5],[1643.1,33.1],[1644.2,40.4],[1645.4,50.1],[1646.5,39.6],[1647.7,34.7],[1648.9,33.9],[1650.6,32.3],[1652.4,30.7]];

// UCS modelled, model 2 [depth, MPa]
const ucsModelB = [[1299.5,7.9],[1378.5,7.9],[1379.5,8.8],[1381,8.6],[1382,7.9],[1396,7.9],[1396.8,19.4],[1398,9.5],[1399.5,10.5],[1401,9.0],[1402.5,12.5],[1404,9.0],[1405,7.9],[1449.5,7.9],[1450.5,8.5],[1452,9.0],[1455,8.3],[1458,8.8],[1461,8.5],[1462.5,7.9],[1491,7.9],[1492,8.8],[1493,7.9],[1510.8,8.1],[1513.1,8.5],[1515.4,8.9],[1517.8,8.5],[1520.1,9.7],[1522.5,10.5],[1524.8,9.7],[1527.7,8.9],[1528.9,21.0],[1530.1,17.0],[1531.3,28.3],[1532.4,25.1],[1533.6,22.6],[1534.8,13.0],[1536,8.9],[1537.7,9.7],[1539.4,8.5],[1541.2,9.7],[1543,8.5],[1544.7,10.5],[1546.5,8.5],[1547.6,8.1],[1548.8,11.3],[1550.6,13.8],[1552.3,12.2],[1554.1,15.4],[1555.8,13.0],[1557.6,16.2],[1559.3,14.6],[1561.1,19.4],[1562.9,17.0],[1564.6,22.6],[1566.4,21.0],[1568.1,24.3],[1569.3,13.0],[1571.1,8.1],[1572.8,9.7],[1574.6,8.9],[1576.3,11.3],[1578.1,17.0],[1579.8,9.7],[1582.2,8.9],[1584.5,8.5],[1586.8,9.7],[1589.2,10.5],[1590.9,13.0],[1592.7,17.0],[1594.5,21.0],[1596.2,19.4],[1598,22.6],[1599.7,24.3],[1601.5,21.8],[1603.2,25.9],[1605,23.4],[1606.7,27.5],[1608.5,22.6],[1610.3,29.1],[1612,25.1],[1613.8,30.7],[1615.5,26.7],[1617.3,9.7],[1619,25.1],[1620.8,21.0],[1622.6,9.7],[1624.3,11.3],[1626.1,14.6],[1627.8,17.0],[1629.6,21.0],[1630.7,25.1],[1631.9,9.7],[1633.7,21.0],[1635.4,25.1],[1637.2,21.0],[1639,17.0],[1640.7,19.4],[1642.5,14.6],[1643.6,9.7],[1645.4,12.2],[1647.2,17.0],[1648.9,14.6],[1650.6,16.2],[1652.4,13.8]];

// ---------------- STYLE ----------------
const lithColor = {Chalk:'#3c7fc3', SandG:'#ffeb00', SiltG:'#6db97b', SiltF:'#9470ab', ClayF:'#585d58', SandF:'#f7aa2d'};
const GREEN = '#62bf3c', GREEN_TXT = '#7cc24e', RED = '#e8281d', INK = '#1a1a1a';
const W = 1235, H = 1488;
const fx = p => p / W, fy = p => 1 - p / H;
const YDOM = [fy(1405), fy(95)];
const FONT = 'Liberation Sans, Arial, sans-serif';
const LEGFONT = 'Open Sans, Noto Sans, sans-serif';

const dep = a => a.map(p => p[0]);
const val = a => a.map(p => p[1]);

function line(color, width) { return {color: color, width: width}; }

const traces = [
  {x: val(grLog), y: dep(grLog), xaxis:'x', yaxis:'y', mode:'lines', line: line(INK,1.8), name:'GR'},
  {x: val(rhobLog), y: dep(rhobLog), xaxis:'x6', yaxis:'y2', mode:'lines', line: line(GREEN,1.6), name:'RHOB'},
  {x: val(nhpiLog), y: dep(nhpiLog), xaxis:'x2', yaxis:'y2', mode:'lines', line: line(INK,1.8), name:'NHPI'},
  {x: val(vpLog), y: dep(vpLog), xaxis:'x3', yaxis:'y3', mode:'lines', line: line(INK,1.6), name:'VP'},
  {x: val(ildLog), y: dep(ildLog), xaxis:'x4', yaxis:'y4', mode:'lines', line: line(INK,1.6), name:'ILD'},
  {x: val(ildModel), y: dep(ildModel), xaxis:'x4', yaxis:'y4', mode:'lines', line: line(RED,1.5), name:'ILD model', connectgaps:false},
  {x: val(ucsModelA), y: dep(ucsModelA), xaxis:'x5', yaxis:'y5', mode:'lines', line: line(RED,1.5), name:'UCS model 1'},
  {x: val(ucsModelB), y: dep(ucsModelB), xaxis:'x7', yaxis:'y7', mode:'lines', line: line(RED,1.5), name:'UCS model 2'}
];

const baseX = {
  showgrid:false, zeroline:false, showline:true, mirror:true, linecolor:'#000', linewidth:1.3,
  ticks:'outside', ticklen:8, tickwidth:1.3, tickcolor:'#000',
  tickfont:{family:FONT, size:20, color:INK}, ticklabelstandoff:1, fixedrange:true
};
const baseY = {
  domain: YDOM, range:[1660,1200], showgrid:false, zeroline:false, showline:true, mirror:true,
  linecolor:'#000', linewidth:1.3, ticks:'outside', ticklen:8, tickwidth:1.3, tickcolor:'#000',
  tickvals: depthTicks, showticklabels:false, fixedrange:true
};
function titleX(t, bold) {
  return {text: t, font:{family:FONT, size:23, color:INK, weight: bold ? 'bold' : 'normal'}, standoff: 22};
}

const layout = {
  width: W, height: H, margin:{l:0,r:0,t:0,b:0},
  paper_bgcolor:'#fff', plot_bgcolor:'rgba(0,0,0,0)', showlegend:false,
  font:{family:FONT, color:INK},
  xaxis: Object.assign({}, baseX, {domain:[fx(103),fx(315)], range:[0,150], anchor:'y', tickvals:grTicks, ticktext:grTickText, title:titleX('GR')}),
  xaxis2: Object.assign({}, baseX, {domain:[fx(322),fx(535)], range:[0,0.6], anchor:'y2', tickvals:nhpiTicks, ticktext:nhpiTickText, title:titleX('NHPI v.v')}),
  xaxis3: Object.assign({}, baseX, {domain:[fx(543),fx(755)], range:[2000,5000], anchor:'y3', tickvals:vpTicks, ticktext:vpTickText, title:titleX('VP (m/sek)')}),
  xaxis4: Object.assign({}, baseX, {domain:[fx(772),fx(985)], type:'log', range:[Math.log10(0.2),1], anchor:'y4', tickvals:ildTicks, ticktext:ildTickText, title:titleX('ILD omh.m')}),
  xaxis5: Object.assign({}, baseX, {domain:[fx(995),fx(1207)], range:[10,50], anchor:'y5', tickvals:ucsTicks, ticktext:ucsTickText,
           tickfont:{family:FONT, size:20, color:INK, weight:'bold'}, title:titleX('UCS*', true)}),
  xaxis6: {overlaying:'x2', side:'top', anchor:'free', position: fy(90), range:[2.6,1.8],
           showgrid:false, zeroline:false, showline:true, linecolor:'#000', linewidth:1.3,
           ticks:'outside', ticklen:6, tickwidth:1.3, tickcolor:'#000', tickvals:rhobTicks, ticktext:rhobTickText,
           tickfont:{family:FONT, size:18, color:GREEN_TXT}, ticklabelstandoff:4, fixedrange:true,
           title:{text:'RHOB', font:{family:FONT, size:23, color:GREEN_TXT}, standoff:19}},
  xaxis7: {domain:[fx(982),fx(1207)], range:[7.547,50], anchor:'y7', visible:false, fixedrange:true},
  yaxis: Object.assign({}, baseY, {anchor:'x', showticklabels:true, tickfont:{family:FONT, size:18, color:INK}, ticklabelstandoff:4,
           title:{text:'Md, m', font:{family:FONT, size:22, color:INK}, standoff:12}}),
  yaxis2: Object.assign({}, baseY, {anchor:'x2', matches:'y'}),
  yaxis3: Object.assign({}, baseY, {anchor:'x3', matches:'y'}),
  yaxis4: Object.assign({}, baseY, {anchor:'x4', matches:'y'}),
  yaxis5: Object.assign({}, baseY, {anchor:'x5', matches:'y'}),
  yaxis7: {domain: YDOM, range:[1660,1200], anchor:'x7', matches:'y', visible:false, fixedrange:true},
  shapes: [],
  annotations: []
};

// lithology bands (behind the curves, spanning all tracks)
for (let i = 0; i < bandTop.length; i++) {
  layout.shapes.push({type:'rect', layer:'below', xref:'paper', yref:'y', x0:fx(103), x1:fx(1195),
    y0: bandTop[i], y1: bandBottom[i], fillcolor: lithColor[bandLith[i]], line:{width:0}});
}
// Fjerritslev / Gassum boundary line
layout.shapes.push({type:'line', layer:'above', xref:'paper', yref:'y', x0:fx(103), x1:fx(1201),
  y0: formationBoundary, y1: formationBoundary, line:{color:'#000', width:1.6}});

// legend box
layout.shapes.push({type:'rect', layer:'above', xref:'paper', yref:'paper', x0:fx(815), x1:fx(1195), y0:fy(329), y1:fy(94),
  fillcolor:'#fff', line:{color:'#000', width:1.6}});
const swTop = [101,123,146,172,199,226];
legendKeys.forEach((k, i) => {
  layout.shapes.push({type:'rect', layer:'above', xref:'paper', yref:'paper', x0:fx(847), x1:fx(912),
    y0: fy(swTop[i] + 16.5), y1: fy(swTop[i]), fillcolor: lithColor[k], line:{color: lithColor[k], width:0.5}});
});
layout.shapes.push({type:'circle', layer:'above', xref:'paper', yref:'paper', x0:fx(881.5), x1:fx(886.5), y0:fy(266.5), y1:fy(261.5),
  fillcolor:'#111', line:{width:0}});
layout.shapes.push({type:'line', layer:'above', xref:'paper', yref:'paper', x0:fx(851), x1:fx(909), y0:fy(277), y1:fy(277), line:{color:GREEN, width:1.5}});
layout.shapes.push({type:'line', layer:'above', xref:'paper', yref:'paper', x0:fx(849), x1:fx(910), y0:fy(287), y1:fy(287), line:{color:'#000', width:3.5}});
layout.shapes.push({type:'line', layer:'above', xref:'paper', yref:'paper', x0:fx(851), x1:fx(907), y0:fy(310), y1:fy(310), line:{color:'#f07a68', width:1.6}});

const legTextY = [104,130,156,182,208,234,259.5,284.5,310];
legendLabels.concat(legendLines).forEach((t, i) => {
  layout.annotations.push({xref:'paper', yref:'paper', x:fx(925), y:fy(legTextY[i]), xanchor:'left', yanchor:'middle',
    text:t, showarrow:false, font:{family:LEGFONT, size:20, color:'#231f20'}});
});

// the two adjacent "10" tick labels (ILD end / UCS start)
layout.annotations.push({xref:'paper', yref:'paper', x:fx(978), y:fy(1432), xanchor:'center', yanchor:'middle', showarrow:false,
  text:'10', font:{family:FONT, size:20, color:INK}});
layout.annotations.push({xref:'paper', yref:'paper', x:fx(1006), y:fy(1432), xanchor:'center', yanchor:'middle', showarrow:false,
  text:'<b>10</b>', font:{family:FONT, size:20, color:INK}});

Plotly.newPlot('chart', traces, layout, {displayModeBar:false, staticPlot:true});
</script>
</body>
</html>
